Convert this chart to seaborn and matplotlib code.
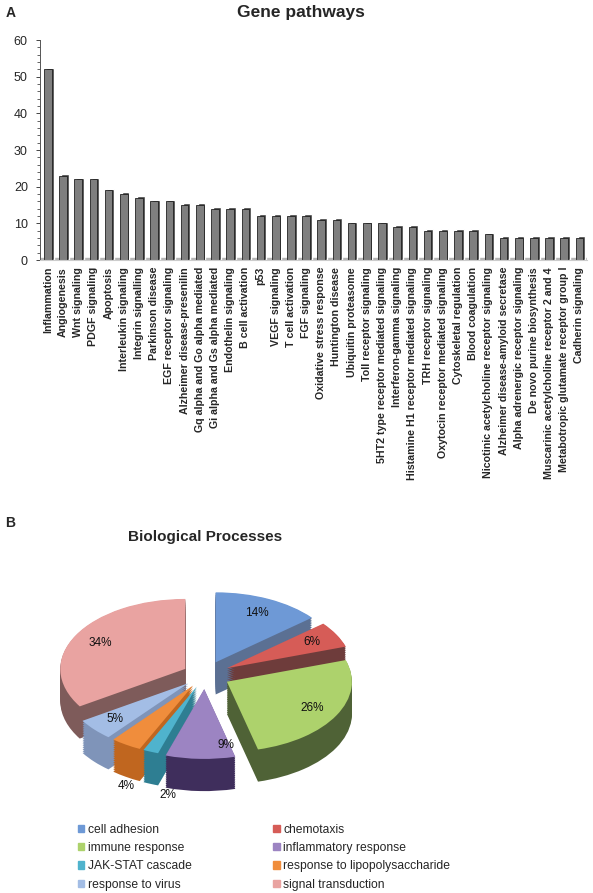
import numpy as np
import matplotlib
matplotlib.use("Agg")
import matplotlib.pyplot as plt
import seaborn as sns

# Panel A data
pathways = [
    "Inflammation", "Angiogenesis", "Wnt signaling", "PDGF signaling", "Apoptosis",
    "Interleukin signaling", "Integrin signalling", "Parkinson disease",
    "EGF receptor signaling", "Alzheimer disease-presenilin",
    "Gq alpha and Go alpha mediated", "Gi alpha and Gs alpha mediated",
    "Endothelin signaling", "B cell activation", "p53", "VEGF signaling",
    "T cell activation", "FGF signaling", "Oxidative stress response",
    "Huntington disease", "Ubiquitin proteasome", "Toll receptor signaling",
    "5HT2 type receptor mediated signaling", "Interferon-gamma signaling",
    "Histamine H1 receptor mediated signaling", "TRH receptor signaling",
    "Oxytocin receptor mediated signaling", "Cytoskeletal regulation",
    "Blood coagulation", "Nicotinic acetylcholine receptor signaling",
    "Alzheimer disease-amyloid secretase", "Alpha adrenergic receptor signaling",
    "De novo purine biosynthesis", "Muscarinic acetylcholine receptor 2 and 4",
    "Metabotropic glutamate receptor group I", "Cadherin signaling",
]
counts = [52, 23, 22, 22, 19, 18, 17, 16, 16, 15, 15, 14, 14, 14, 12, 12, 12, 12,
          11, 11, 10, 10, 10, 9, 9, 8, 8, 8, 8, 7, 6, 6, 6, 6, 6, 6]

# Panel B data
processes = ["cell adhesion", "chemotaxis", "immune response", "inflammatory response",
             "JAK-STAT cascade", "response to lipopolysaccharide", "response to virus",
             "signal transduction"]
shares = [14, 6, 26, 9, 2, 4, 5, 34]
top_colors = ["#6E99D6", "#D65C57", "#ADD26C", "#9C84C2", "#4FB3CD", "#F08D3C",
              "#A3BDE5", "#E9A3A1"]
side_colors = ["#5B7093", "#6E3C3B", "#4F6236", "#3F2E5C", "#2E7E92", "#C0661F",
               "#7F94B9", "#7E5B5A"]

sns.set_style("white")
plt.rcParams["font.family"] = ["Liberation Sans", "DejaVu Sans"]

fig = plt.figure(figsize=(5.93, 8.93), dpi=100)

# ---------------- A: bar chart ----------------
ax = fig.add_axes([0.068, 0.7088, 0.922, 0.2464])
x = np.arange(len(counts))
# dark "side" of the pseudo-3D bars
ax.bar(x + 0.12, np.array(counts) + 0.5, width=0.5, color="#3c3c3c", zorder=1)
sns.barplot(x=pathways, y=counts, color="#7f7f7f", width=0.5, edgecolor="#222222",
            linewidth=0.6, saturation=1, ax=ax, zorder=2)
ax.axhspan(0, 0.6, color="#b5b5b5", zorder=0)
ax.set_xlim(-0.5, len(counts) - 0.5)
ax.set_ylim(0, 60)
ax.set_yticks(range(0, 61, 10))
ax.set_yticks(range(0, 61, 2), minor=True)
ax.tick_params(axis="y", which="major", length=3, width=0.6, labelsize=9, pad=6, left=True)
ax.tick_params(axis="y", which="minor", length=2, width=0.5, left=True)
ax.tick_params(axis="x", length=0, pad=5)
ax.set_xticks(x)
ax.set_xticklabels(pathways, rotation=90, fontsize=7.7, fontweight="bold")
for s in ["top", "right"]:
    ax.spines[s].set_visible(False)
ax.spines["left"].set_color("#555555")
ax.spines["left"].set_linewidth(0.7)
ax.spines["bottom"].set_color("#cccccc")
ax.set_xlabel("")
ax.set_ylabel("")
fig.text(0.507, 0.986, "Gene pathways", ha="center", va="center", fontsize=12.5,
         fontweight="bold")
fig.text(0.018, 0.986, "A", ha="center", va="center", fontsize=10, fontweight="bold")

# ---------------- B: pie chart ----------------
pax = fig.add_axes([40 / 593, 1 - 810 / 893, 340 / 593, 250 / 893])
explode = [0.2, 0.2, 0.2, 0.2, 0.18, 0.18, 0.18, 0.18]
depth = 0.46
for d in np.linspace(depth, 0.01, 18):
    pax.pie(shares, explode=explode, colors=side_colors, startangle=90,
            counterclock=False, center=(0, -d), radius=1,
            wedgeprops=dict(linewidth=0))
wedges, texts, autotexts = pax.pie(
    shares, explode=explode, colors=top_colors, startangle=90, counterclock=False,
    autopct="%d%%", pctdistance=0.78, radius=1,
    wedgeprops=dict(linewidth=0), textprops=dict(fontsize=8.5, color="#111111"))
for w, t, v, e in zip(wedges, autotexts, shares, explode):
    mid = np.deg2rad((w.theta1 + w.theta2) / 2)
    if v == 2:
        t.set_position(((1.0 + e) * np.cos(mid) + 0.14, (1.3 + e) * np.sin(mid) - 0.34))
    elif v == 4:
        t.set_position(((1.0 + e) * np.cos(mid), (1.3 + e) * np.sin(mid) - 0.34))
    elif v == 9:
        t.set_position(((0.9 + e) * np.cos(mid) + 0.2, (0.9 + e) * np.sin(mid) + 0.1))
pax.set_aspect("auto")
pax.set_xlim(-1.32, 1.40)
pax.set_ylim(-1.93, 1.643)
pax.axis("off")

fig.text(205 / 593, 1 - 537 / 893, "Biological Processes", ha="center", va="center",
         fontsize=11, fontweight="bold")
fig.text(0.017, 1 - 523 / 893, "B", ha="center", va="center", fontsize=10,
         fontweight="bold")

# legend: two columns, row-major order as in the figure
order = [0, 2, 4, 6, 1, 3, 5, 7]
handles = [plt.Rectangle((0, 0), 1, 1, color=top_colors[i]) for i in order]
labels = [processes[i] for i in order]
fig.legend(handles, labels, ncol=2, frameon=False, fontsize=8.7,
           loc="upper left", bbox_to_anchor=(73 / 593, 1 - 819 / 893),
           handlelength=0.55, handleheight=0.55, handletextpad=0.3,
           columnspacing=6.7, labelspacing=0.52, borderaxespad=0)

fig.savefig("out.png", dpi=100)
